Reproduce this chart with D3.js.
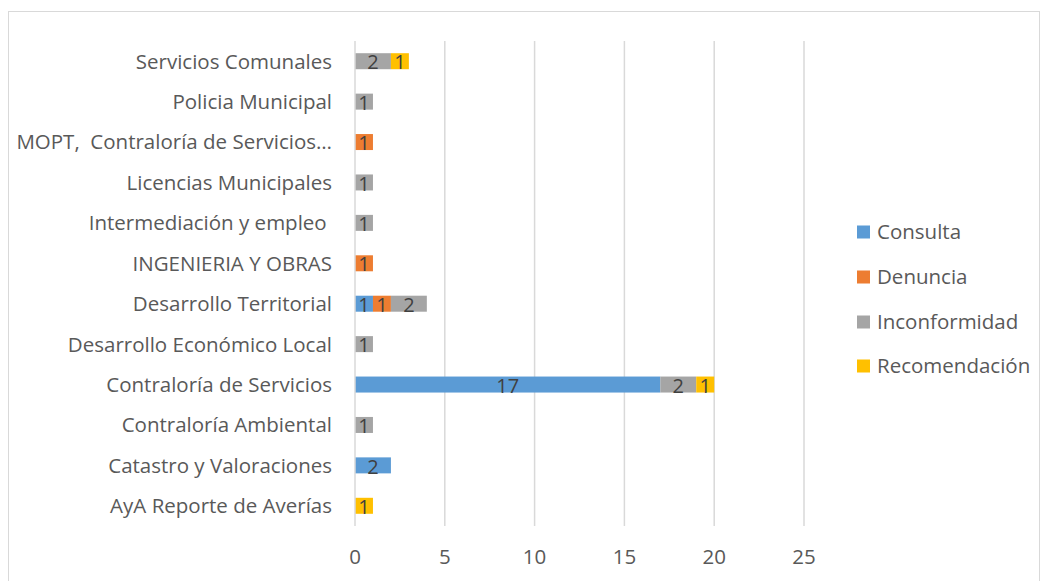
<!DOCTYPE html>
<html><head><meta charset="utf-8">
<script src="https://cdn.jsdelivr.net/npm/d3@7"></script>
<style>body{margin:0;background:#fff}svg{display:block}</style>
</head><body><svg id="c" width="1047" height="581"></svg>
<script>
const categories = ["Servicios Comunales","Policia Municipal","MOPT,  Contraloría de Servicios…","Licencias Municipales","Intermediación y empleo ","INGENIERIA Y OBRAS","Desarrollo Territorial","Desarrollo Económico Local","Contraloría de Servicios","Contraloría Ambiental","Catastro y Valoraciones","AyA Reporte de Averías"];
const seriesNames = ["Consulta","Denuncia","Inconformidad","Recomendación"];
const consulta      = [0,0,0,0,0,0,1,0,17,0,2,0];
const denuncia      = [0,0,1,0,0,1,1,0,0,0,0,0];
const inconformidad = [2,1,0,1,1,0,2,1,2,1,0,0];
const recomendacion = [1,0,0,0,0,0,0,0,1,0,0,1];
const colors = ["#5b9bd5","#ed7d31","#a5a5a5","#ffc000"];
const xTicks = [0,5,10,15,20,25];

const svg = d3.select("#c");
const font = "'Open Sans', sans-serif";
const fs = 20.5;
svg.append("rect").attr("x",8.5).attr("y",11.5).attr("width",1031).attr("height",575)
  .attr("fill","#fff").attr("stroke","#d9d9d9").attr("stroke-width",1);

const x = d3.scaleLinear().domain([0,25]).range([355,804]);
const y = d3.scaleBand().domain(categories).range([41,526]).paddingInner(0.6).paddingOuter(0.3);

// gridlines
svg.append("g").selectAll("line").data(xTicks.slice(1)).join("line")
  .attr("x1",d=>x(d)).attr("x2",d=>x(d)).attr("y1",41).attr("y2",526)
  .attr("stroke","#d9d9d9").attr("stroke-width",1.5);

const data = categories.map((c,i)=>({cat:c, Consulta:consulta[i], Denuncia:denuncia[i], Inconformidad:inconformidad[i], "Recomendación":recomendacion[i]}));
const stacked = d3.stack().keys(seriesNames)(data);

const bh = 16;
stacked.forEach((s,si)=>{
  const g = svg.append("g");
  s.forEach((d,i)=>{
    const v = d[1]-d[0];
    if(!v) return;
    const yc = y(categories[i]) + y.bandwidth()/2;
    g.append("rect").attr("x",x(d[0])).attr("width",x(d[1])-x(d[0]))
      .attr("y",yc-bh/2).attr("height",bh).attr("fill",colors[si]);
    g.append("text").attr("x",(x(d[0])+x(d[1]))/2).attr("y",yc).attr("dy","0.41em")
      .attr("text-anchor","middle").attr("font-family",font).attr("font-size",20)
      .attr("fill","#404040").text(v);
  });
});

// y axis line
svg.append("line").attr("x1",x(0)).attr("x2",x(0)).attr("y1",41).attr("y2",526)
  .attr("stroke","#d9d9d9").attr("stroke-width",1.5);

// category labels
svg.append("g").selectAll("text").data(categories).join("text")
  .attr("x",332).attr("y",d=>y(d)+y.bandwidth()/2).attr("dy","0.36em")
  .attr("text-anchor","end").attr("font-family",font).attr("font-size",fs)
  .attr("fill","#595959").attr("xml:space","preserve").style("white-space","pre").text(d=>d);

// x tick labels
svg.append("g").selectAll("text").data(xTicks).join("text")
  .attr("x",d=>x(d)).attr("y",557).attr("dy","0.36em").attr("text-anchor","middle")
  .attr("font-family",font).attr("font-size",fs).attr("fill","#595959").text(d=>d);

// legend
const ly = [232,277,322,366];
const lg = svg.append("g");
seriesNames.forEach((n,i)=>{
  lg.append("rect").attr("x",857).attr("y",ly[i]-6.5).attr("width",13).attr("height",13).attr("fill",colors[i]);
  lg.append("text").attr("x",877).attr("y",ly[i]).attr("dy","0.36em").attr("font-family",font)
    .attr("font-size",fs).attr("fill","#595959").text(n);
});
</script></body></html>
